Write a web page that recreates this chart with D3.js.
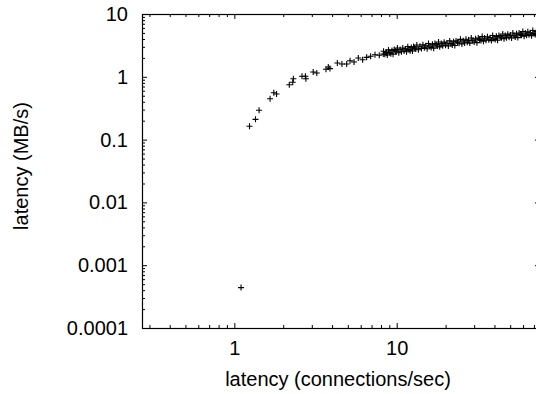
<!DOCTYPE html>
<html>
<head>
<meta charset="utf-8">
<script src="https://cdn.jsdelivr.net/npm/d3@7"></script>
<style>
  html, body { margin: 0; padding: 0; background: #fff; }
  svg { display: block; font-family: "Liberation Sans", Arial, sans-serif; }
  .tick text { font-size: 20px; fill: #000; }
  .lbl { font-size: 20px; fill: #000; }
</style>
</head>
<body>
<div id="chart"></div>
<script>
// connection rate (x) and throughput (y)
const connRate = [
  1.10, 1.24, 1.35, 1.42, 1.66, 1.75, 1.82,
  2.18, 2.29, 2.31, 2.61, 2.74, 2.76, 3.06, 3.22, 3.67, 3.79, 3.88,
  4.31, 4.60, 4.92, 5.16, 5.46, 5.80, 6.17, 6.53, 6.91, 7.35, 7.81, 8.27, 8.68,
  8.3, 8.45, 8.6, 8.75, 8.9, 9.05, 9.2, 9.35, 9.5, 9.65, 9.8, 9.95,
  10.1, 10.3, 10.5, 10.7, 10.9, 11.1, 11.3, 11.5, 11.7, 11.9, 12.1, 12.3,
  12.5, 12.7, 12.9, 13.1, 13.3, 13.6, 13.9, 14.2, 14.5, 14.8, 15.1, 15.4,
  15.7, 16.0, 16.3, 16.6, 16.9, 17.2, 17.5, 17.8, 18.1, 18.4, 18.8, 19.2,
  19.6, 20.0, 20.4, 20.8, 21.2, 21.6, 22.0, 22.4, 22.8, 23.2, 23.7, 24.2,
  24.7, 25.2, 25.7, 26.2, 26.7, 27.2, 27.7, 28.2, 28.8, 29.4, 30.0, 30.6,
  31.2, 31.8, 32.4, 33.0, 33.6, 34.2, 34.8, 35.5, 36.2, 36.9, 37.6, 38.3,
  39.0, 39.7, 40.4, 41.1, 41.8, 42.6, 43.4, 44.2, 45.0, 45.8, 46.6, 47.4,
  48.3, 49.2, 50.1, 51.0, 51.9, 52.8, 53.7, 54.7, 55.7, 56.7, 57.7, 58.7,
  59.8, 60.9, 62.0, 63.1, 64.2, 65.3, 66.5, 67.7, 68.9, 70.1, 71.3, 72.5,
  73.8, 75.1
];
const throughput = [
  0.00044, 0.163, 0.21, 0.293, 0.448, 0.558, 0.532,
  0.748, 0.817, 0.933, 1.02, 1.02, 0.933, 1.19, 1.15, 1.32, 1.43, 1.35,
  1.66, 1.60, 1.60, 1.80, 1.72, 1.99, 1.87, 2.04, 2.12, 2.25, 2.20, 2.31, 2.39,
  2.55, 2.28, 2.47, 2.22, 2.68, 2.44, 2.33, 2.63, 2.29, 2.71, 2.58, 2.50,
  2.87, 2.42, 2.73, 2.51, 2.88, 2.57, 2.78, 2.50, 3.02, 2.73, 2.61, 2.94,
  2.57, 3.03, 2.88, 2.78, 3.21, 2.70, 3.06, 2.82, 3.23, 2.89, 3.12, 2.80,
  3.38, 3.06, 2.92, 3.29, 2.86, 3.39, 3.21, 3.10, 3.58, 3.00, 3.38, 3.11,
  3.56, 3.18, 3.44, 3.09, 3.73, 3.37, 3.22, 3.62, 3.15, 3.73, 3.54, 3.43,
  3.95, 3.33, 3.76, 3.45, 3.96, 3.54, 3.84, 3.44, 4.14, 3.74, 3.58, 4.02,
  3.50, 4.14, 3.94, 3.80, 4.38, 3.68, 4.14, 3.81, 4.35, 3.90, 4.20, 3.77,
  4.55, 4.11, 3.92, 4.41, 3.83, 4.55, 4.31, 4.17, 4.81, 4.04, 4.55, 4.17,
  4.78, 4.27, 4.61, 4.14, 4.98, 4.51, 4.30, 4.84, 4.21, 4.99, 4.73, 4.57,
  5.26, 4.43, 4.99, 4.57, 5.23, 4.66, 5.04, 4.52, 5.45, 4.92, 4.70, 5.27,
  4.59, 5.43
];
const xMajorTicks = [1, 10];
const xTickLabels = ["1", "10"];
const yMajorTicks = [10, 1, 0.1, 0.01, 0.001, 0.0001];
const yTickLabels = ["10", "1", "0.1", "0.01", "0.001", "0.0001"];

const width = 536, height = 394;
const m = { left: 142, top: 14, right: 540, bottom: 328 };

const svg = d3.select("#chart").append("svg")
  .attr("width", width).attr("height", height);

const x = d3.scaleLog().domain([0.27, 76.3]).range([m.left, m.right]);
const y = d3.scaleLog().domain([0.0001, 10]).range([m.bottom, m.top]);

const minorX = x.ticks().filter((d) => !xMajorTicks.some((v) => Math.abs(v - d) < v * 1e-6));
const minorY = y.ticks().filter((d) => !yMajorTicks.some((v) => Math.abs(v - d) < v * 1e-6));

function ticks(axis, tr, values, len, labels, pad) {
  const g = svg.append("g").attr("transform", tr)
    .call(axis.tickValues(values).tickSizeInner(-len).tickSizeOuter(0).tickPadding(pad)
      .tickFormat(labels ? (d, i) => labels[i] : () => ""));
  g.select(".domain").remove();
  g.selectAll("line").attr("stroke", "#000");
  return g;
}

// bottom / left carry labels, top / right are mirrored ticks
ticks(d3.axisBottom(x), `translate(0,${m.bottom})`, minorX, 3, null, 0);
ticks(d3.axisBottom(x), `translate(0,${m.bottom})`, xMajorTicks, 5, xTickLabels, 12.8);
ticks(d3.axisTop(x), `translate(0,${m.top})`, minorX, 3, null, 0);
ticks(d3.axisTop(x), `translate(0,${m.top})`, xMajorTicks, 5, null, 0);
ticks(d3.axisLeft(y), `translate(${m.left},0)`, minorY, 3, null, 0);
ticks(d3.axisLeft(y), `translate(${m.left},0)`, yMajorTicks, 5, yTickLabels, 14);
ticks(d3.axisRight(y), `translate(${m.right},0)`, minorY, 3, null, 0);
ticks(d3.axisRight(y), `translate(${m.right},0)`, yMajorTicks, 5, null, 0);

svg.selectAll(".tick text").attr("fill", "#000");

svg.append("rect")
  .attr("x", m.left + 0.5).attr("y", m.top + 0.5)
  .attr("width", m.right - m.left).attr("height", m.bottom - m.top)
  .attr("fill", "none").attr("stroke", "#000").attr("stroke-width", 1.2);

const pts = connRate.map((d, i) => [d, throughput[i]]);
svg.append("g").selectAll("path")
  .data(pts)
  .enter()
  .append("path")
  .attr("transform", (d) => `translate(${x(d[0])},${y(d[1])})`)
  .attr("d", "M-3,0H3M0,-3V3")
  .attr("stroke", "#000")
  .attr("stroke-width", 1.1)
  .attr("fill", "none");

svg.append("text").attr("class", "lbl")
  .attr("x", 338).attr("y", 386)
  .attr("text-anchor", "middle")
  .text("latency (connections/sec)");
svg.append("text").attr("class", "lbl")
  .attr("transform", "rotate(-90)")
  .attr("x", -166).attr("y", 28)
  .attr("text-anchor", "middle")
  .text("latency (MB/s)");
</script>
</body>
</html>
